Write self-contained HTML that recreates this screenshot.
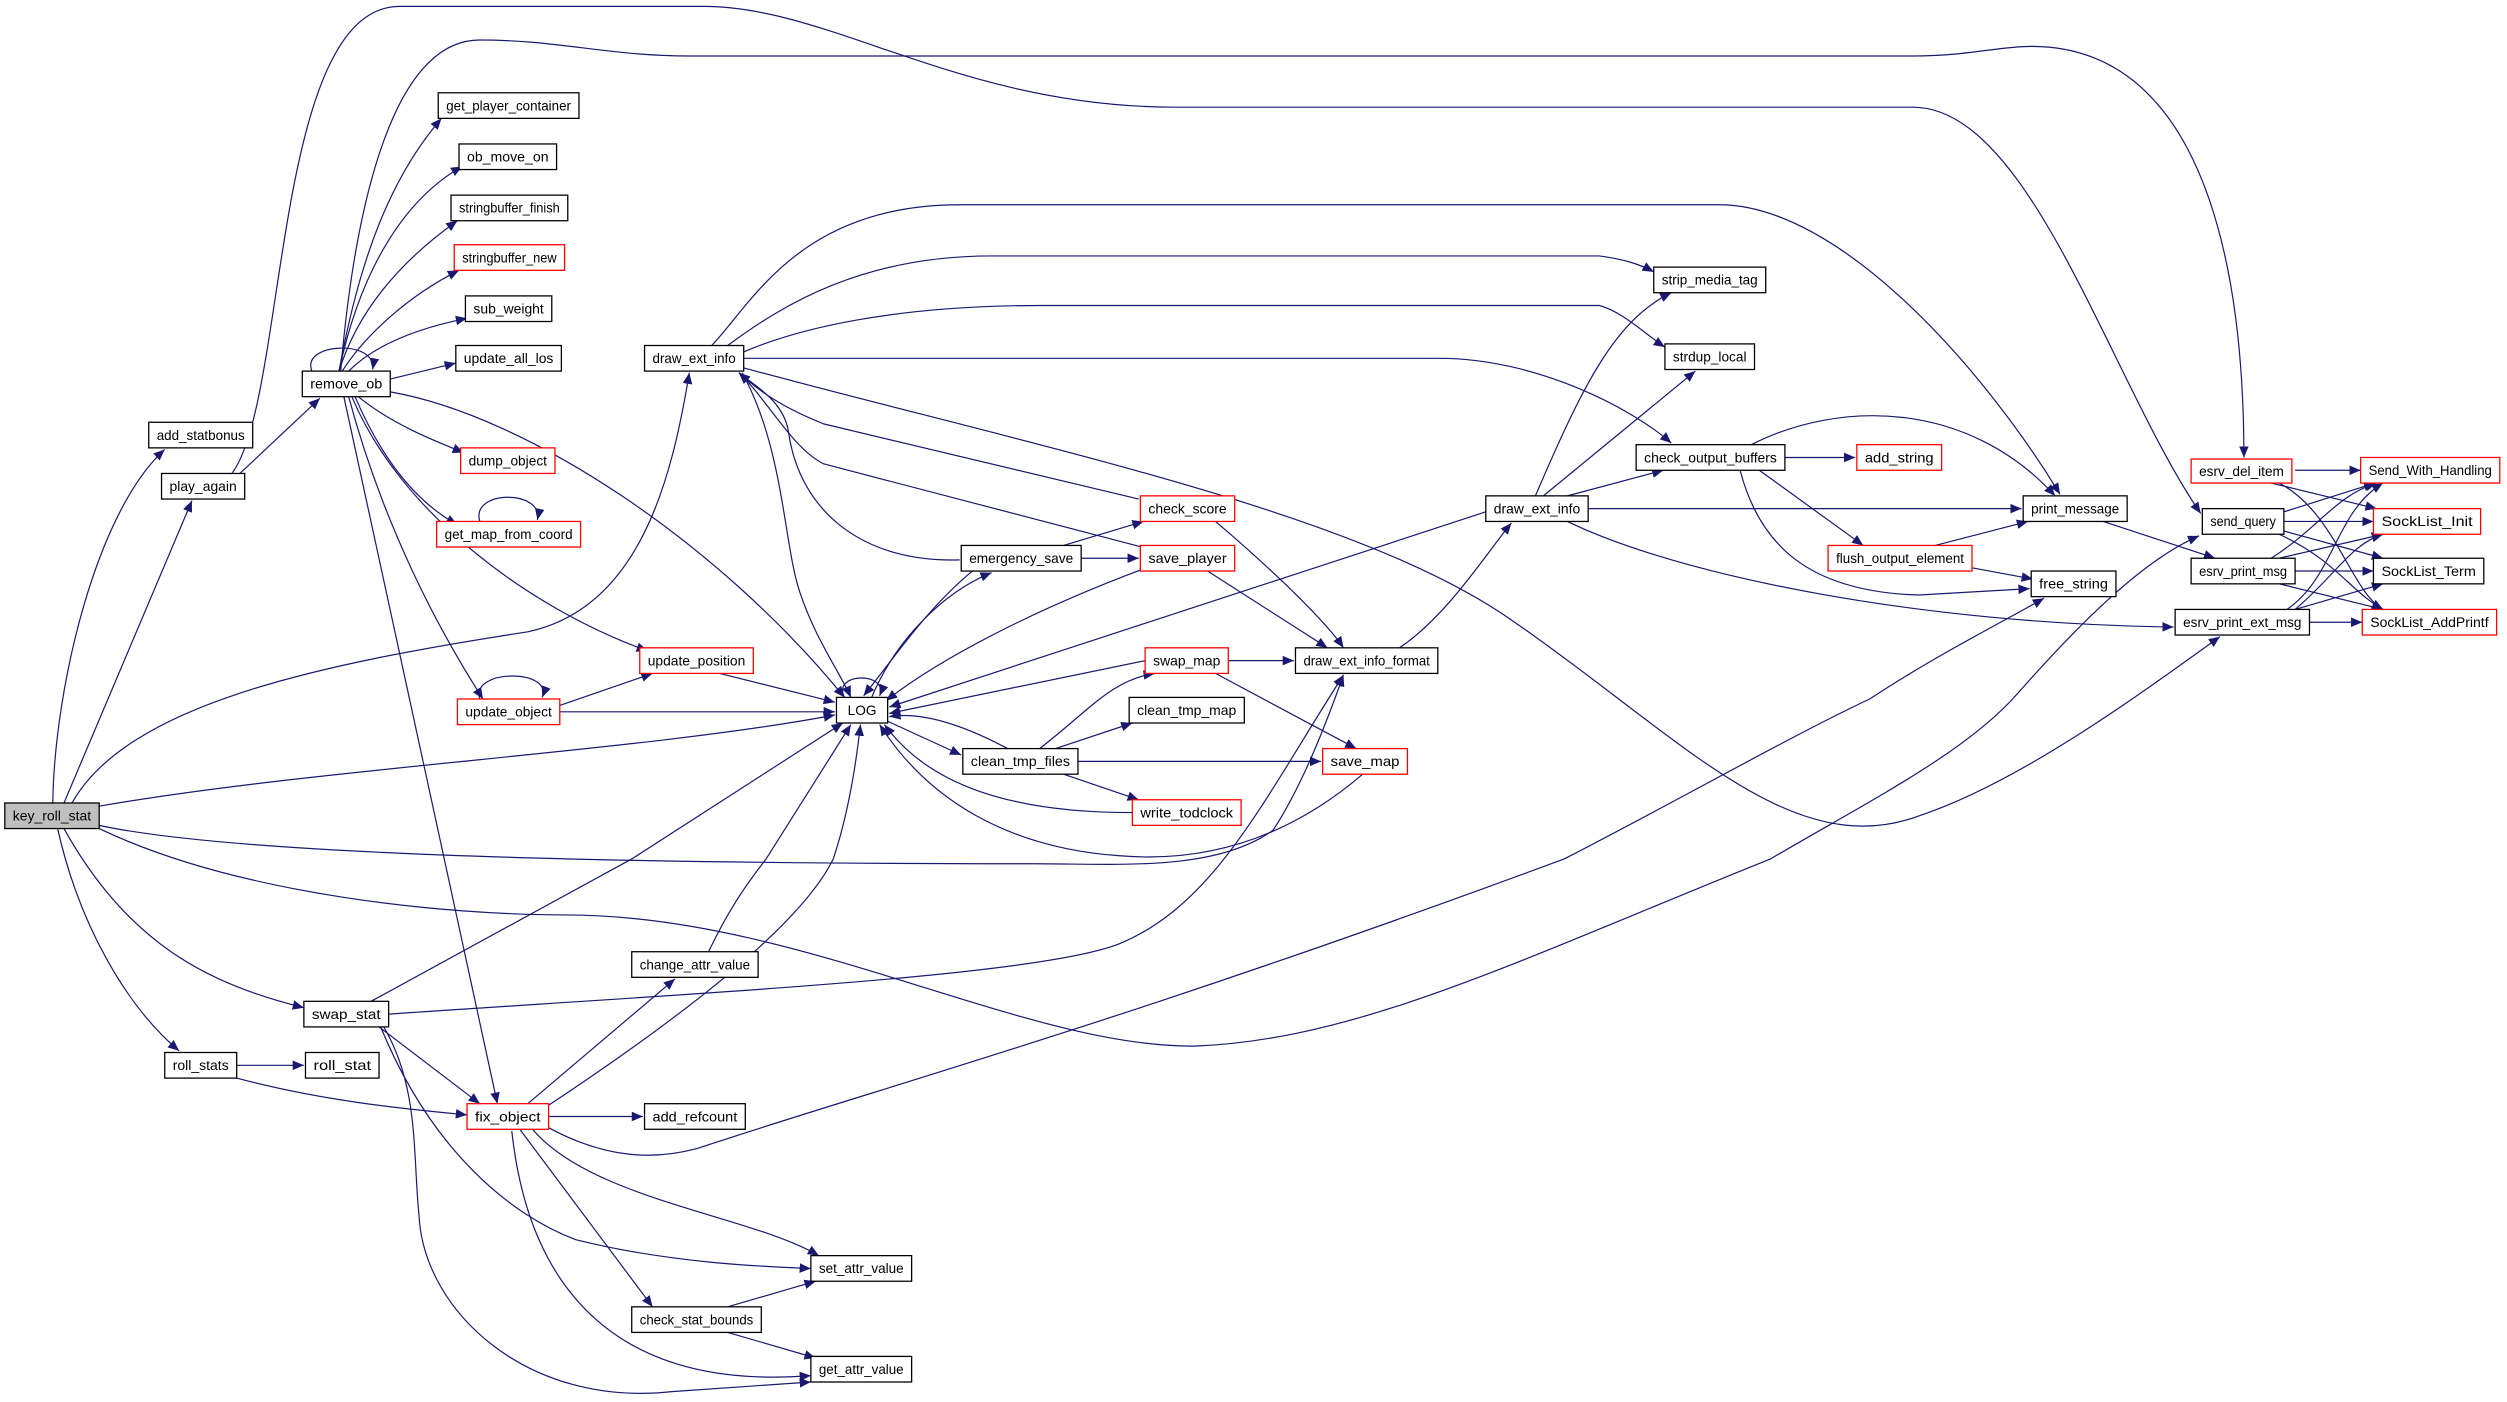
<!DOCTYPE html>
<html><head><meta charset="utf-8"><style>
html,body{margin:0;padding:0;background:#fff;}
svg{display:block;}
text{font-family:"Liberation Sans",sans-serif;font-size:8.6px;fill:#000;}
.e{fill:none;stroke:#191970;stroke-width:0.75;}
.n{fill:#fff;stroke:#000;stroke-width:0.8;}
.r{fill:#fff;stroke:#ff0000;stroke-width:0.8;}
</style></head><body>
<svg width="2507" height="1402" viewBox="0 0 1567.5 876.5" preserveAspectRatio="none" xmlns="http://www.w3.org/2000/svg">
<defs><marker id="a" markerUnits="userSpaceOnUse" markerWidth="8" markerHeight="6" refX="7" refY="3" orient="auto"><path d="M0,0 L7,3 L0,6 Z" fill="#191970"/></marker></defs>
<g class="e" marker-end="url(#a)">
<path d="M33,502 C34,430 60,320 103,281"/>
<path d="M40,502 L120,313"/>
<path d="M45,502 C80,440 200,415 330,395 C400,380 420,300 431,233"/>
<path d="M62,504 C200,480 400,470 522,447"/>
<path d="M62,516 C150,535 400,540 646,540 C700,540 760,545 796,519 C815,490 830,450 840,422"/>
<path d="M62,518 C150,560 280,572 354,572 C500,572 640,655 747,654 C850,650 950,600 1107,537 C1170,500 1230,470 1262,433 C1300,390 1340,350 1375,335"/>
<path d="M40,518 C80,590 130,615 190,630"/>
<path d="M36,518 C50,580 80,630 112,657"/>
<path d="M150,296 L200,249"/>
<path d="M145,296 C180,250 170,4 250,4 L440,4 C520,4 600,67 735,67 L1196,67 C1270,67 1320,240 1376,321"/>
<path d="M213,232 C220,150 240,25 300,25 C350,25 380,35 431,35 L1196,35 C1230,35 1250,29 1270,29 C1390,29 1403,200 1403,286"/>
<path d="M195,232 C188,214 236,212 233,231"/>
<path d="M212,232 C225,160 245,110 276,74"/>
<path d="M212,232 C225,170 252,125 289,104"/>
<path d="M212,232 C225,190 255,160 286,138"/>
<path d="M214,232 C228,210 255,185 287,169"/>
<path d="M218,232 C235,215 262,205 292,199"/>
<path d="M244,237 L285,227"/>
<path d="M224,248 C245,265 270,275 290,283"/>
<path d="M222,248 C240,290 262,315 286,328"/>
<path d="M300,326 C294,306 340,306 336,325"/>
<path d="M220,248 C250,320 330,380 405,407"/>
<path d="M218,248 C240,330 275,395 302,437"/>
<path d="M244,245 C330,260 450,340 528,436"/>
<path d="M215,248 L311,690"/>
<path d="M300,437 C294,418 346,418 339,436"/>
<path d="M350,441 L408,421"/>
<path d="M350,445 L522,445"/>
<path d="M450,421 L522,439"/>
<path d="M445,216 C470,190 500,128 600,128 L1075,128 C1150,128 1240,230 1288,309"/>
<path d="M455,216 C490,190 540,160 620,160 L1000,160 C1015,162 1025,165 1034,170"/>
<path d="M465,220 C500,205 560,191 650,191 L1000,191 C1015,195 1030,210 1041,217"/>
<path d="M465,224 L900,224 C960,224 1020,255 1045,277"/>
<path d="M465,230 C650,280 850,320 947,389 C1050,460 1120,540 1200,510 C1260,490 1330,440 1388,398"/>
<path d="M464,233 C490,280 490,340 500,370 C510,400 525,420 532,436"/>
<path d="M528,436 C520,420 556,420 550,435"/>
<path d="M545,436 C560,400 590,370 620,358"/>
<path d="M608,357 C580,380 560,410 540,435"/>
<path d="M600,350 C540,352 500,320 493,270 C490,250 470,240 462,233"/>
<path d="M665,341 L715,326"/>
<path d="M676,349 L712,349"/>
<path d="M712,312 L515,265 C490,255 475,245 462,233"/>
<path d="M714,342 L515,290 C495,280 480,250 462,233"/>
<path d="M714,356 C650,380 590,410 554,438"/>
<path d="M760,326 C800,360 830,390 840,405"/>
<path d="M755,357 L830,405"/>
<path d="M929,320 L556,442"/>
<path d="M875,405 C905,385 930,345 945,327"/>
<path d="M716,413 L556,446"/>
<path d="M768,413 L809,413"/>
<path d="M760,421 L848,468"/>
<path d="M650,468 C680,445 695,425 722,421"/>
<path d="M660,468 L708,452"/>
<path d="M674,476 L826,476"/>
<path d="M665,484 L712,500"/>
<path d="M630,468 C600,452 575,445 556,448"/>
<path d="M553,450 L601,472"/>
<path d="M708,508 C630,508 580,490 553,453"/>
<path d="M852,484 C810,520 760,540 700,535 C630,530 580,500 550,453"/>
<path d="M243,634 C450,620 650,610 700,590 C760,565 790,500 840,422"/>
<path d="M343,705 C380,725 410,725 436,718 C550,680 700,640 978,537 C1050,500 1120,460 1169,437 C1210,410 1250,390 1278,374"/>
<path d="M960,310 C990,240 1010,200 1045,183"/>
<path d="M965,310 L1060,232"/>
<path d="M980,310 L1040,294"/>
<path d="M993,318 L1264,318"/>
<path d="M980,326 C1050,360 1200,390 1359,392"/>
<path d="M1116,286 L1160,286"/>
<path d="M1095,278 C1150,250 1230,250 1285,310"/>
<path d="M1100,294 L1165,341"/>
<path d="M1088,294 C1100,340 1130,370 1200,372 L1269,368"/>
<path d="M1210,341 L1268,326"/>
<path d="M1233,355 L1271,362"/>
<path d="M1315,326 L1385,349"/>
<path d="M1435,294 L1476,294"/>
<path d="M1420,302 L1486,318"/>
<path d="M1425,302 C1460,320 1470,370 1490,381"/>
<path d="M1428,320 L1485,302"/>
<path d="M1428,326 L1484,326"/>
<path d="M1428,332 L1490,349"/>
<path d="M1425,334 C1460,350 1470,370 1490,381"/>
<path d="M1420,349 C1450,330 1460,310 1486,302"/>
<path d="M1425,349 L1490,334"/>
<path d="M1435,357 L1484,357"/>
<path d="M1425,365 L1490,381"/>
<path d="M1430,381 C1460,360 1460,320 1490,302"/>
<path d="M1435,381 C1460,360 1470,340 1490,334"/>
<path d="M1435,381 L1490,365"/>
<path d="M1444,389 L1477,389"/>
<path d="M330,690 L422,612"/>
<path d="M443,595 C455,570 465,555 479,537 L532,453"/>
<path d="M343,691 C420,640 500,580 521,537 C530,510 535,480 538,453"/>
<path d="M232,626 L395,537 L527,452"/>
<path d="M237,642 L300,690"/>
<path d="M148,666 L190,666"/>
<path d="M148,674 C200,688 250,693 292,697"/>
<path d="M343,698 L402,698"/>
<path d="M333,706 C370,750 470,760 512,785"/>
<path d="M325,706 L408,817"/>
<path d="M320,707 C330,800 380,870 507,860"/>
<path d="M238,642 C270,720 320,760 360,775 C420,790 480,792 507,793"/>
<path d="M240,642 C262,680 258,720 262,760 C265,820 330,880 420,870 L507,864"/>
<path d="M455,817 L510,801"/>
<path d="M455,833 L510,849"/>
</g>
<g>
<rect x="3" y="502" width="59" height="16" fill="#bfbfbf" stroke="#000" stroke-width="0.8"/><text x="32.5" y="513" text-anchor="middle" textLength="49" lengthAdjust="spacingAndGlyphs">key_roll_stat</text>
<rect class="n" x="93" y="264" width="65" height="16"/><text x="125.5" y="275" text-anchor="middle" textLength="55" lengthAdjust="spacingAndGlyphs">add_statbonus</text>
<rect class="n" x="101" y="296" width="52" height="16"/><text x="127" y="307" text-anchor="middle" textLength="42" lengthAdjust="spacingAndGlyphs">play_again</text>
<rect class="n" x="189" y="232" width="55" height="16"/><text x="216.5" y="243" text-anchor="middle" textLength="45" lengthAdjust="spacingAndGlyphs">remove_ob</text>
<rect class="n" x="274" y="58" width="88" height="16"/><text x="318" y="69" text-anchor="middle" textLength="78" lengthAdjust="spacingAndGlyphs">get_player_container</text>
<rect class="n" x="287" y="90" width="61" height="16"/><text x="317.5" y="101" text-anchor="middle" textLength="51" lengthAdjust="spacingAndGlyphs">ob_move_on</text>
<rect class="n" x="282" y="122" width="73" height="16"/><text x="318.5" y="133" text-anchor="middle" textLength="63" lengthAdjust="spacingAndGlyphs">stringbuffer_finish</text>
<rect class="r" x="284" y="153" width="69" height="16"/><text x="318.5" y="164" text-anchor="middle" textLength="59" lengthAdjust="spacingAndGlyphs">stringbuffer_new</text>
<rect class="n" x="291" y="185" width="54" height="16"/><text x="318" y="196" text-anchor="middle" textLength="44" lengthAdjust="spacingAndGlyphs">sub_weight</text>
<rect class="n" x="285" y="216" width="66" height="16"/><text x="318" y="227" text-anchor="middle" textLength="56" lengthAdjust="spacingAndGlyphs">update_all_los</text>
<rect class="r" x="288" y="280" width="59" height="16"/><text x="317.5" y="291" text-anchor="middle" textLength="49" lengthAdjust="spacingAndGlyphs">dump_object</text>
<rect class="r" x="273" y="326" width="90" height="16"/><text x="318" y="337" text-anchor="middle" textLength="80" lengthAdjust="spacingAndGlyphs">get_map_from_coord</text>
<rect class="r" x="400" y="405" width="71" height="16"/><text x="435.5" y="416" text-anchor="middle" textLength="61" lengthAdjust="spacingAndGlyphs">update_position</text>
<rect class="r" x="286" y="437" width="64" height="16"/><text x="318" y="448" text-anchor="middle" textLength="54" lengthAdjust="spacingAndGlyphs">update_object</text>
<rect class="n" x="523" y="436" width="32" height="16"/><text x="539" y="447" text-anchor="middle" textLength="18" lengthAdjust="spacingAndGlyphs">LOG</text>
<rect class="n" x="403" y="216" width="62" height="16"/><text x="434" y="227" text-anchor="middle" textLength="52" lengthAdjust="spacingAndGlyphs">draw_ext_info</text>
<rect class="n" x="601" y="341" width="75" height="16"/><text x="638.5" y="352" text-anchor="middle" textLength="65" lengthAdjust="spacingAndGlyphs">emergency_save</text>
<rect class="r" x="713" y="310" width="59" height="16"/><text x="742.5" y="321" text-anchor="middle" textLength="49" lengthAdjust="spacingAndGlyphs">check_score</text>
<rect class="r" x="713" y="341" width="59" height="16"/><text x="742.5" y="352" text-anchor="middle" textLength="49" lengthAdjust="spacingAndGlyphs">save_player</text>
<rect class="r" x="716" y="405" width="52" height="16"/><text x="742" y="416" text-anchor="middle" textLength="42" lengthAdjust="spacingAndGlyphs">swap_map</text>
<rect class="n" x="706" y="436" width="72" height="16"/><text x="742" y="447" text-anchor="middle" textLength="62" lengthAdjust="spacingAndGlyphs">clean_tmp_map</text>
<rect class="n" x="602" y="468" width="72" height="16"/><text x="638" y="479" text-anchor="middle" textLength="62" lengthAdjust="spacingAndGlyphs">clean_tmp_files</text>
<rect class="r" x="708" y="500" width="68" height="16"/><text x="742" y="511" text-anchor="middle" textLength="58" lengthAdjust="spacingAndGlyphs">write_todclock</text>
<rect class="r" x="827" y="468" width="53" height="16"/><text x="853.5" y="479" text-anchor="middle" textLength="43" lengthAdjust="spacingAndGlyphs">save_map</text>
<rect class="n" x="810" y="405" width="89" height="16"/><text x="854.5" y="416" text-anchor="middle" textLength="79" lengthAdjust="spacingAndGlyphs">draw_ext_info_format</text>
<rect class="n" x="929" y="310" width="64" height="16"/><text x="961" y="321" text-anchor="middle" textLength="54" lengthAdjust="spacingAndGlyphs">draw_ext_info</text>
<rect class="n" x="1034" y="167" width="70" height="16"/><text x="1069" y="178" text-anchor="middle" textLength="60" lengthAdjust="spacingAndGlyphs">strip_media_tag</text>
<rect class="n" x="1041" y="215" width="56" height="16"/><text x="1069" y="226" text-anchor="middle" textLength="46" lengthAdjust="spacingAndGlyphs">strdup_local</text>
<rect class="n" x="1023" y="278" width="93" height="16"/><text x="1069.5" y="289" text-anchor="middle" textLength="83" lengthAdjust="spacingAndGlyphs">check_output_buffers</text>
<rect class="r" x="1161" y="278" width="53" height="16"/><text x="1187.5" y="289" text-anchor="middle" textLength="43" lengthAdjust="spacingAndGlyphs">add_string</text>
<rect class="r" x="1143" y="341" width="90" height="16"/><text x="1188" y="352" text-anchor="middle" textLength="80" lengthAdjust="spacingAndGlyphs">flush_output_element</text>
<rect class="n" x="1265" y="310" width="65" height="16"/><text x="1297.5" y="321" text-anchor="middle" textLength="55" lengthAdjust="spacingAndGlyphs">print_message</text>
<rect class="n" x="1270" y="357" width="53" height="16"/><text x="1296.5" y="368" text-anchor="middle" textLength="43" lengthAdjust="spacingAndGlyphs">free_string</text>
<rect class="r" x="1370" y="287" width="63" height="15"/><text x="1401.5" y="297.5" text-anchor="middle" textLength="53" lengthAdjust="spacingAndGlyphs">esrv_del_item</text>
<rect class="n" x="1377" y="318" width="51" height="16"/><text x="1402.5" y="329" text-anchor="middle" textLength="41" lengthAdjust="spacingAndGlyphs">send_query</text>
<rect class="n" x="1370" y="349" width="65" height="16"/><text x="1402.5" y="360" text-anchor="middle" textLength="55" lengthAdjust="spacingAndGlyphs">esrv_print_msg</text>
<rect class="n" x="1360" y="381" width="84" height="16"/><text x="1402" y="392" text-anchor="middle" textLength="74" lengthAdjust="spacingAndGlyphs">esrv_print_ext_msg</text>
<rect class="r" x="1476" y="286" width="87" height="16"/><text x="1519.5" y="297" text-anchor="middle" textLength="77" lengthAdjust="spacingAndGlyphs">Send_With_Handling</text>
<rect class="r" x="1484" y="318" width="67" height="16"/><text x="1517.5" y="329" text-anchor="middle" textLength="57" lengthAdjust="spacingAndGlyphs">SockList_Init</text>
<rect class="n" x="1484" y="349" width="69" height="16"/><text x="1518.5" y="360" text-anchor="middle" textLength="59" lengthAdjust="spacingAndGlyphs">SockList_Term</text>
<rect class="r" x="1477" y="381" width="84" height="16"/><text x="1519" y="392" text-anchor="middle" textLength="74" lengthAdjust="spacingAndGlyphs">SockList_AddPrintf</text>
<rect class="n" x="190" y="626" width="53" height="16"/><text x="216.5" y="637" text-anchor="middle" textLength="43" lengthAdjust="spacingAndGlyphs">swap_stat</text>
<rect class="n" x="395" y="595" width="79" height="16"/><text x="434.5" y="606" text-anchor="middle" textLength="69" lengthAdjust="spacingAndGlyphs">change_attr_value</text>
<rect class="n" x="103" y="658" width="45" height="16"/><text x="125.5" y="669" text-anchor="middle" textLength="35" lengthAdjust="spacingAndGlyphs">roll_stats</text>
<rect class="n" x="191" y="658" width="46" height="16"/><text x="214" y="669" text-anchor="middle" textLength="36" lengthAdjust="spacingAndGlyphs">roll_stat</text>
<rect class="r" x="292" y="690" width="51" height="16"/><text x="317.5" y="701" text-anchor="middle" textLength="41" lengthAdjust="spacingAndGlyphs">fix_object</text>
<rect class="n" x="403" y="690" width="63" height="16"/><text x="434.5" y="701" text-anchor="middle" textLength="53" lengthAdjust="spacingAndGlyphs">add_refcount</text>
<rect class="n" x="507" y="785" width="63" height="16"/><text x="538.5" y="796" text-anchor="middle" textLength="53" lengthAdjust="spacingAndGlyphs">set_attr_value</text>
<rect class="n" x="395" y="817" width="81" height="16"/><text x="435.5" y="828" text-anchor="middle" textLength="71" lengthAdjust="spacingAndGlyphs">check_stat_bounds</text>
<rect class="n" x="507" y="848" width="63" height="16"/><text x="538.5" y="859" text-anchor="middle" textLength="53" lengthAdjust="spacingAndGlyphs">get_attr_value</text>
</g>
</svg>
</body></html>
